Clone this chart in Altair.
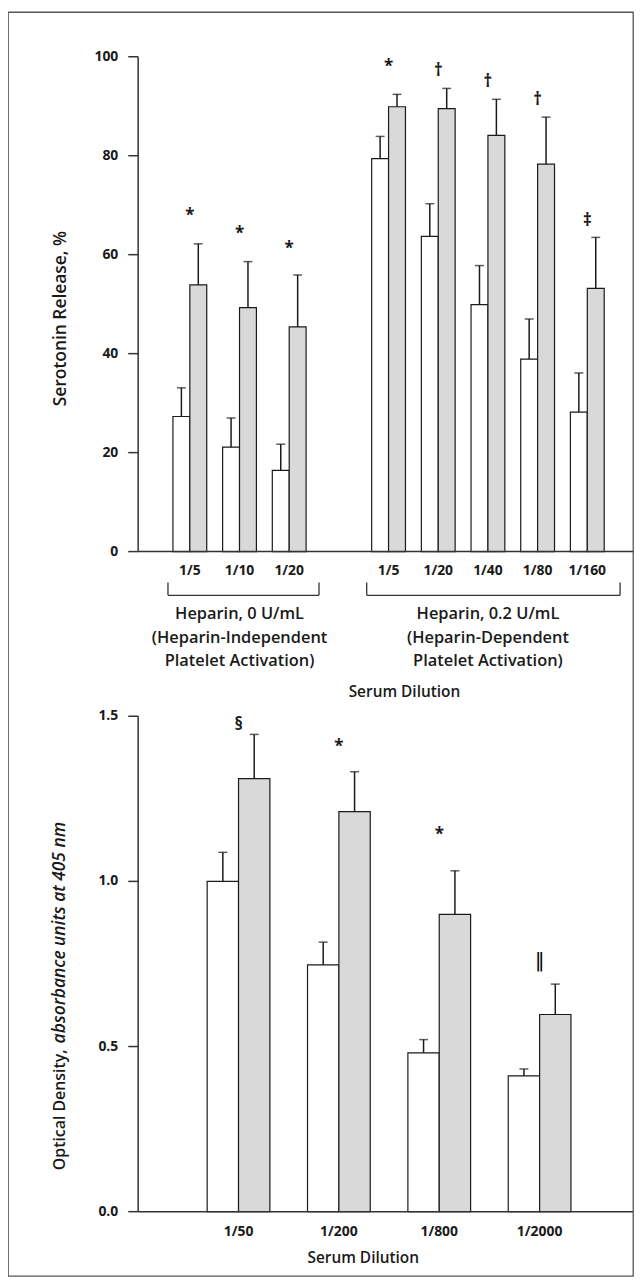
import altair as alt
import pandas as pd

FONT = "Open Sans"
INK = "#1a1a1a"
LINE = "#333333"

# ---------------- top panel (serotonin release) ----------------
top_slot_domain = ["h0 1/5", "h0 1/10", "h0 1/20", "gap",
                   "h02 1/5", "h02 1/20", "h02 1/40", "h02 1/80", "h02 1/160"]
top_slots = ["h0 1/5", "h0 1/10", "h0 1/20",
             "h02 1/5", "h02 1/20", "h02 1/40", "h02 1/80", "h02 1/160"]
top_labels = ["1/5", "1/10", "1/20", "1/5", "1/20", "1/40", "1/80", "1/160"]
top_white = [27.3, 21.1, 16.4, 79.4, 63.7, 49.9, 38.9, 28.2]
top_white_sd = [5.8, 5.9, 5.3, 4.5, 6.6, 7.9, 8.1, 7.9]
top_gray = [53.9, 49.3, 45.4, 89.9, 89.5, 84.1, 78.3, 53.2]
top_gray_sd = [8.3, 9.3, 10.5, 2.5, 4.1, 7.3, 9.5, 10.3]
top_sig = ["*", "*", "*", "*", "\u2020", "\u2020", "\u2020", "\u2021"]
top_sig_y = [67.9, 64.1, 61.1, 98.0, 97.2, 94.8, 91.2, 66.9]
top_ticks = [0, 20, 40, 60, 80, 100]
top_tick_labels = ["0", "20", "40", "60", "80", "100"]
top_group_slots = ["h0 1/10", "h02 1/40"]
top_group_text = ["Heparin, 0 U/mL\n(Heparin-Independent\nPlatelet Activation)",
                  "Heparin, 0.2 U/mL\n(Heparin-Dependent\nPlatelet Activation)"]

# ---------------- bottom panel (optical density) ----------------
bot_slots = ["1/50", "1/200", "1/800", "1/2000"]
bot_labels = ["1/50", "1/200", "1/800", "1/2000"]
bot_white = [1.000, 0.747, 0.481, 0.411]
bot_white_sd = [0.088, 0.069, 0.040, 0.021]
bot_gray = [1.311, 1.211, 0.900, 0.597]
bot_gray_sd = [0.134, 0.121, 0.132, 0.092]
bot_sig = ["\u00a7", "*", "*", "\u2016"]
bot_sig_y = [1.472, 1.408, 1.141, 0.759]
bot_ticks = [0.0, 0.5, 1.0, 1.5]
bot_tick_labels = ["0.0", "0.5", "1.0", "1.5"]

SERIES = ["Without", "With"]


def bar_frame(slots, white, wsd, gray, gsd):
    rows = []
    for s, w, ws, g, gs in zip(slots, white, wsd, gray, gsd):
        rows.append(dict(slot=s, series="Without", value=w, sd=ws))
        rows.append(dict(slot=s, series="With", value=g, sd=gs))
    return pd.DataFrame(rows)


def panel(df, lab_df, sig_df, xs, xo, ys, ticks, tick_labels, label_y, extra):
    X = alt.X("slot:N", scale=xs, axis=None)
    XO = alt.XOffset("series:N", scale=xo)
    base = alt.Chart(df).transform_calculate(hi="datum.value + datum.sd")
    bars = base.mark_bar(stroke=INK, strokeWidth=1.2).encode(
        x=X, xOffset=XO,
        y=alt.Y("value:Q", scale=ys, axis=None),
        fill=alt.Fill("series:N", scale=alt.Scale(domain=SERIES, range=["#ffffff", "#d9d9d9"]),
                      legend=None),
    )
    err = base.mark_rule(color=INK, strokeWidth=1.5).encode(
        x=X, xOffset=XO,
        y=alt.Y("value:Q", scale=ys, axis=None), y2="hi:Q")
    cap = base.mark_tick(color=INK, thickness=1.5, size=9, orient="horizontal").encode(
        x=X, xOffset=XO, y=alt.Y("hi:Q", scale=ys, axis=None))

    # y axis drawn from the tick list through the y scale
    tick_df = pd.DataFrame({"t": ticks, "lab": tick_labels})
    dom_df = pd.DataFrame({"lo": [min(ticks)], "hi": [max(ticks)]})
    ydomain = alt.Chart(dom_df).mark_rule(color=LINE, strokeWidth=1.5).encode(
        x=alt.value(131), y=alt.Y("lo:Q", scale=ys, axis=None), y2="hi:Q")
    yticks = alt.Chart(tick_df).mark_rule(color=LINE, strokeWidth=1.5).encode(
        x=alt.value(121), x2=alt.value(131), y=alt.Y("t:Q", scale=ys, axis=None))
    ylabels = alt.Chart(tick_df).mark_text(font=FONT, fontSize=14, fontWeight="bold",
                                           color=INK, align="right", baseline="middle").encode(
        x=alt.value(111), y=alt.Y("t:Q", scale=ys, axis=None), text="lab:N")
    xline = alt.Chart(dom_df).mark_rule(color=LINE, strokeWidth=1.5).encode(
        x=alt.value(131), x2=alt.value(629),
        y=alt.Y("lo:Q", scale=ys, axis=None))

    labels = alt.Chart(lab_df).mark_text(font=FONT, fontSize=14, fontWeight="bold",
                                         color=INK, baseline="middle").encode(
        x=X, y=alt.value(label_y), text="label:N")
    sig_main = alt.Chart(sig_df).transform_filter("datum.sig != '\u2016'").mark_text(
        font=FONT, fontSize=17, fontWeight="bold", color=INK, baseline="middle").encode(
        x=X, y=alt.Y("sy:Q", scale=ys, axis=None), text="sig:N")
    sig_bar = alt.Chart(sig_df).transform_filter("datum.sig == '\u2016'").mark_text(
        font="DejaVu Sans", fontSize=19, color="#000000",
        baseline="middle").encode(
        x=X, y=alt.Y("sy:Q", scale=ys, axis=None), text="sig:N")
    return alt.layer(bars, err, cap, ydomain, yticks, ylabels, xline,
                     labels, sig_main, sig_bar, *extra)


one = pd.DataFrame({"a": [0]})


def txt(text, x, y, size=15, weight=600, style="normal", angle=0, align="center"):
    return alt.Chart(one).mark_text(font=FONT, fontSize=size, fontWeight=weight,
                                    fontStyle=style, angle=angle, align=align,
                                    baseline="middle", color=INK).encode(
        x=alt.value(x), y=alt.value(y), text=alt.value(text))


def rule(x, x2, y, y2):
    return alt.Chart(one).mark_rule(color=LINE, strokeWidth=1.3).encode(
        x=alt.value(x), x2=alt.value(x2), y=alt.value(y), y2=alt.value(y2))


# ---------- top panel ----------
top_df = bar_frame(top_slots, top_white, top_white_sd, top_gray, top_gray_sd)
top_lab = pd.DataFrame({"slot": top_slots, "label": top_labels})
top_sigdf = pd.DataFrame({"slot": top_slots, "sig": top_sig, "sy": top_sig_y})
xs_top = alt.Scale(type="band", domain=top_slot_domain, range=[158, 608],
                   paddingInner=0, paddingOuter=0)
xo_top = alt.Scale(type="band", domain=SERIES, paddingInner=0, paddingOuter=0.47)
ys_top = alt.Scale(domain=[0, 100], range=[543, 45], nice=False)

group_df = pd.DataFrame({"slot": top_group_slots, "label": top_group_text})
group_text = alt.Chart(group_df).mark_text(font=FONT, fontSize=16.5, fontWeight=600,
                                           color=INK, baseline="middle",
                                           lineBreak="\n", lineHeight=23.5).encode(
    x=alt.X("slot:N", scale=xs_top, axis=None), y=alt.value(606), text="label:N")

top_extra = [
    rule(161, 313, 587, 587), rule(161, 161, 574, 587), rule(313, 313, 574, 587),
    rule(361, 616, 587, 587), rule(361, 361, 574, 587), rule(616, 616, 574, 587),
    group_text,
    txt("Serum Dilution", 399, 684, size=15.5),
    txt("Serotonin Release, %", 53, 308.5, size=17.5, angle=270),
]
top_panel = panel(top_df, top_lab, top_sigdf, xs_top, xo_top, ys_top,
                  top_ticks, top_tick_labels, 563, top_extra)

# ---------- bottom panel ----------
bot_df = bar_frame(bot_slots, bot_white, bot_white_sd, bot_gray, bot_gray_sd)
bot_lab = pd.DataFrame({"slot": bot_slots, "label": bot_labels})
bot_sigdf = pd.DataFrame({"slot": bot_slots, "sig": bot_sig, "sy": bot_sig_y})
xs_bot = alt.Scale(type="band", domain=bot_slots, range=[181.5, 585.5],
                   paddingInner=0, paddingOuter=0)
xo_bot = alt.Scale(type="band", domain=SERIES, paddingInner=0, paddingOuter=0.6)
ys_bot = alt.Scale(domain=[0, 1.5], range=[1207.3, 708.7], nice=False)

bot_extra = [
    txt("Serum Dilution", 357.5, 1254, size=15.5),
    txt("Optical Density,", 52, 1044, size=16, angle=270, align="right"),
    txt("absorbance units at 405 nm", 52, 1038, size=17.5, angle=270, align="left",
        style="italic"),
]
bot_panel = panel(bot_df, bot_lab, bot_sigdf, xs_bot, xo_bot, ys_bot,
                  bot_ticks, bot_tick_labels, 1228, bot_extra)

chart = alt.layer(top_panel, bot_panel).resolve_scale(
    x="independent", y="independent", xOffset="independent"
).properties(width=629, height=1272, padding=0).configure_view(
    stroke="#555555", strokeWidth=1.3
)

chart.save("out.html", embed_options={"renderer": "svg", "actions": False})
